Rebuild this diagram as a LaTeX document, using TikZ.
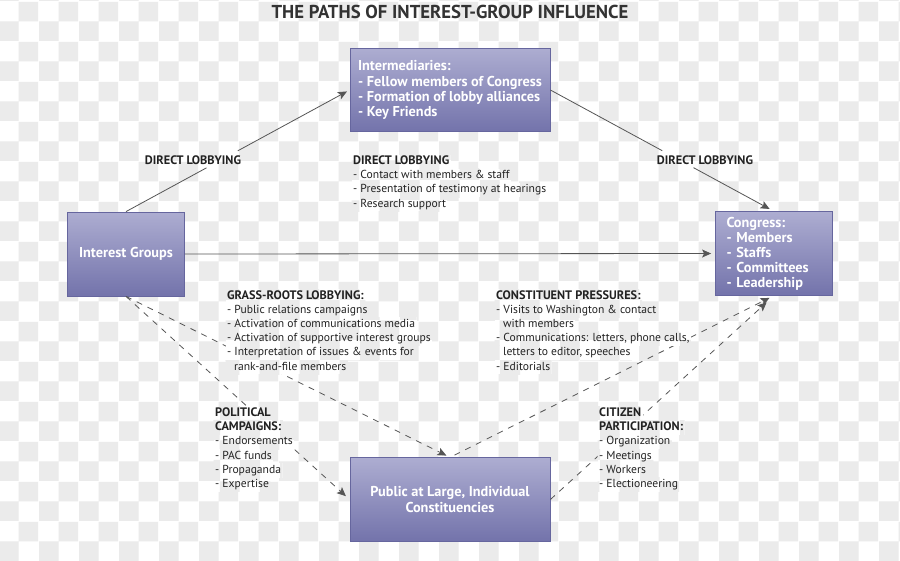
\documentclass[tikz,border=0pt]{standalone}
\usepackage{fontspec}
\setmainfont{PT Sans}
\usetikzlibrary{arrows.meta,calc,patterns}
\definecolor{checkgray}{HTML}{EBEBEB}
\definecolor{boxtop}{HTML}{ADADD1}
\definecolor{boxbot}{HTML}{7373AB}
\definecolor{boxline}{HTML}{66669E}
\definecolor{linegray}{HTML}{555555}
\definecolor{txt}{HTML}{222222}
\definecolor{titlecol}{HTML}{333333}
\newcommand{\hdtxt}[1]{{\fontsize{12.3}{14.2}\selectfont\bfseries #1}}
\pgfdeclarepatternformonly{checker}{\pgfpointorigin}{\pgfpoint{40pt}{40pt}}{\pgfpoint{40pt}{40pt}}{%
  \pgfpathrectangle{\pgfpointorigin}{\pgfpoint{20pt}{20pt}}%
  \pgfpathrectangle{\pgfpoint{20pt}{20pt}}{\pgfpoint{20pt}{20pt}}%
  \pgfusepath{fill}}
\begin{document}
\begin{tikzpicture}[x=1pt,y=-1pt,
  knock/.style={preaction={fill=white}, pattern=checker, pattern color=checkgray},
  box/.style={draw=boxline, line width=0.8pt, top color=boxtop, bottom color=boxbot,
    text=white, font=\fontsize{14.3}{15.2}\selectfont\bfseries, inner sep=0pt},
  conn/.style={draw=linegray, line width=0.8pt},
  tip/.style={-{Stealth[length=9pt,width=8pt,inset=2pt]}},
  dashconn/.style={conn, dash pattern=on 6pt off 6pt},
  ln/.style={knock, text=txt, font=\fontsize{11.6}{14.2}\selectfont, anchor=base west,
    inner xsep=1.5pt, inner ysep=1.5pt, text height=8.5pt, text depth=2.8pt},
  hd/.style={text=txt, font=\fontsize{12.3}{14}\selectfont\bfseries, inner sep=0pt}
]
\useasboundingbox (0,0) rectangle (900,560);
\fill[knock] (0,0) rectangle (900,560);

\node[font=\fontsize{18.7}{21}\selectfont\bfseries, text=titlecol] (title) at (450,12) {THE PATHS OF INTEREST-GROUP INFLUENCE};

\node[box, minimum width=200pt, minimum height=83.5pt, align=left] (inter) at (450,90)
  {Intermediaries:\\- Fellow members of Congress\\- Formation of lobby alliances\\- Key Friends};
\node[box, minimum width=117pt, minimum height=84pt] (ig) at (126,254) {Interest Groups};
\node[box, minimum width=117pt, minimum height=83.5pt, text width=95pt, inner xsep=11pt, align=left,
  font=\fontsize{14.3}{15}\selectfont\bfseries] (cong) at (774,253.5)
  {Congress:\\- Members\\- Staffs\\- Committees\\- Leadership};
\node[box, minimum width=200pt, minimum height=83.5pt, align=center,
  font=\fontsize{14.3}{15.7}\selectfont\bfseries] (pub) at (450,499.5)
  {Public at Large, Individual\\Constituencies};

\node[hd] (dl1) at (193,160) {DIRECT LOBBYING};
\node[hd] (dl2) at (705,160) {DIRECT LOBBYING};

\draw[conn] (ig.north) -- ($(ig.north)!0.36!(inter.west)$);
\draw[conn,tip,shorten >=3pt] ($(ig.north)!0.50!(inter.west)$) -- (inter.west);
\draw[conn] (inter.east) -- ($(inter.east)!0.50!(cong.north)$);
\draw[conn,tip,shorten >=5pt] ($(inter.east)!0.64!(cong.north)$) -- (cong.north);
\draw[conn,tip,shorten >=4pt] (ig.east) -- (cong.west);

\draw[dashconn,tip,shorten >=4pt] (ig.south) -- (pub.north);
\draw[dashconn,tip,shorten >=5pt] (ig.south) -- (pub.west);
\draw[dashconn,tip,shorten <=5pt,shorten >=5pt] (pub.north) -- (cong.south);
\draw[dashconn,tip,shorten >=10pt] (pub.east) -- (cong.south);

% text blocks, one node per line (each knocks out the lines behind it)
\foreach \t [count=\k] in {{\hdtxt{DIRECT LOBBYING}},{- Contact with members \& staff},
    {- Presentation of testimony at hearings},{- Research support}}
  \node[ln] (dlm\k) at (351.5,164.5+\k*14.2-14.2) {\t};
\foreach \t [count=\k] in {{\hdtxt{GRASS-ROOTS LOBBYING:}},{- Public relations campaigns},
    {- Activation of communications media},{- Activation of supportive interest groups},
    {- Interpretation of issues \& events for},{\hspace*{7pt}rank-and-file members}}
  \node[ln] (grass\k) at (225.5,299+\k*14.2-14.2) {\t};
\foreach \t [count=\k] in {{\hdtxt{POLITICAL}},{\hdtxt{CAMPAIGNS:}},{- Endorsements},
    {- PAC funds},{- Propaganda},{- Expertise}}
  \node[ln] (pol\k) at (213.5,416.5+\k*14.2-14.2) {\t};
\foreach \t [count=\k] in {{\hdtxt{CONSTITUENT PRESSURES:}},{- Visits to Washington \& contact},
    {\hspace*{7pt}with members},{- Communications: letters, phone calls,},
    {\hspace*{7pt}letters to editor, speeches},{- Editorials}}
  \node[ln] (const\k) at (494.5,299+\k*14.2-14.2) {\t};
\foreach \t [count=\k] in {{\hdtxt{CITIZEN}},{\hdtxt{PARTICIPATION:}},{- Organization},
    {- Meetings},{- Workers},{- Electioneering}}
  \node[ln] (cit\k) at (597.5,416.5+\k*14.2-14.2) {\t};
\end{tikzpicture}
\end{document}
